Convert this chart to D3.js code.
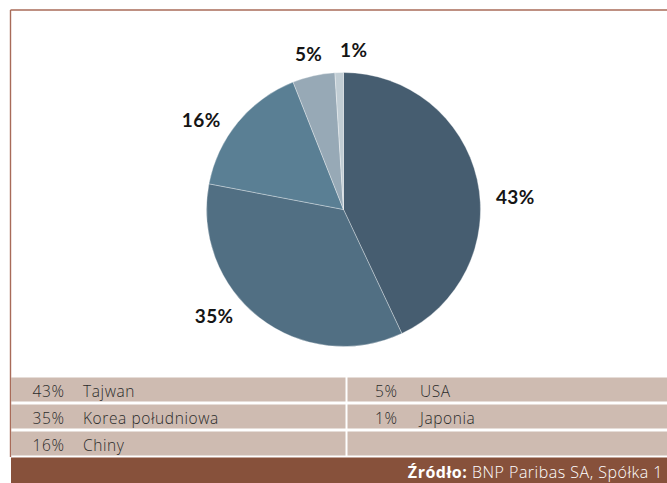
<!DOCTYPE html>
<html>
<head>
<meta charset="utf-8">
<script src="https://cdn.jsdelivr.net/npm/d3@7"></script>
<style>
  html, body { margin: 0; padding: 0; background: #fff; }
  svg { display: block; }
</style>
</head>
<body>
<svg id="chart" width="667" height="483"></svg>
<script>
// ---- data ----
const categories = ["Tajwan", "Korea południowa", "Chiny", "USA", "Japonia"];
const values = [43, 35, 16, 5, 1];
const sourceLabel = "Źródło:";
const sourceText = "BNP Paribas SA, Spółka 1";

// ---- layout / style ----
const W = 667, H = 483;
const colors = ["#465d70", "#516f83", "#5a7f94", "#97a9b6", "#c1cdd4"];
const labelNudgeDeg = [8, 10.8, -5.2, 0.5, 5.3]; // label placement adjustments (best fit)
const cx = 343.5, cy = 209.5, R = 137;

const svg = d3.select("#chart");

// frame
svg.append("rect").attr("x", 0).attr("y", 0).attr("width", W).attr("height", H).attr("fill", "#fff");
svg.append("line").attr("x1", 10.5).attr("x2", W).attr("y1", 10).attr("y2", 10)
  .attr("stroke", "#a86b59").attr("stroke-width", 1.4);
svg.append("line").attr("x1", 10.5).attr("x2", 10.5).attr("y1", 10).attr("y2", 457)
  .attr("stroke", "#a86b59").attr("stroke-width", 1.4);

// pie
const pie = d3.pie().sort(null).value(d => d.v);
const data = categories.map((c, i) => ({ c, v: values[i], i }));
const arcs = pie(data);
const arc = d3.arc().innerRadius(0).outerRadius(R);

const g = svg.append("g").attr("transform", `translate(${cx},${cy})`);
g.selectAll("path.slice").data(arcs).enter().append("path")
  .attr("class", "slice")
  .attr("d", arc)
  .attr("fill", d => colors[d.data.i])
  .attr("stroke", "rgba(255,255,255,0.55)")
  .attr("stroke-width", 0.6);

// labels (outside end)
const pad = 16;
const labelG = g.append("g");
arcs.forEach(d => {
  const mid = (d.startAngle + d.endAngle) / 2 + labelNudgeDeg[d.data.i] * Math.PI / 180;
  const s = Math.sin(mid), c = Math.cos(mid);
  const px = (R + pad) * s, py = -(R + pad) * c;
  const t = labelG.append("text")
    .attr("font-family", "Lato, 'Open Sans', sans-serif")
    .attr("font-weight", 700)
    .attr("font-size", 19)
    .attr("letter-spacing", 0.4)
    .attr("fill", "#151515")
    .attr("text-anchor", "middle")
    .attr("dominant-baseline", "central")
    .text(d.data.v + "%");
  const bb = t.node().getBBox();
  const hw = bb.width / 2, hh = 7;
  t.attr("x", px + s * hw).attr("y", py - c * hh);
});

// legend table
const rowTops = [377.5, 404.5, 431.5];
const rowH = 24;
const colX = [11, 347.5];
const colW = [334.5, W - 347.5];
const pctX = [32.5, 375];
const nameX = [83, 420];
const rowFill = "#cebbb1";
const tableFont = "'Open Sans', sans-serif";

rowTops.forEach(y => {
  colX.forEach((x, j) => {
    svg.append("rect").attr("x", x).attr("y", y).attr("width", colW[j]).attr("height", rowH)
      .attr("fill", rowFill);
  });
});

data.forEach((d, k) => {
  const col = k < 3 ? 0 : 1;
  const row = k < 3 ? k : k - 3;
  const base = rowTops[row] + 19.5;
  svg.append("text").attr("x", pctX[col]).attr("y", base)
    .attr("font-family", tableFont).attr("font-size", 15.5).attr("font-weight", 300)
    .attr("letter-spacing", 0.6).attr("fill", "#2b2b2b")
    .text(d.v + "%");
  svg.append("text").attr("x", nameX[col]).attr("y", base)
    .attr("font-family", tableFont).attr("font-size", 15.5).attr("font-weight", 300)
    .attr("letter-spacing", 0.6).attr("fill", "#2b2b2b")
    .text(d.c);
});

// footer
svg.append("rect").attr("x", 11).attr("y", 457.5).attr("width", W - 11).attr("height", H - 457.5)
  .attr("fill", "#87513b");
const ft = svg.append("text").attr("x", 663).attr("y", 478)
  .attr("text-anchor", "end")
  .attr("font-family", tableFont).attr("font-size", 16).attr("letter-spacing", 0.5)
  .attr("fill", "#fff");
ft.append("tspan").attr("font-weight", 700).text(sourceLabel + " ");
ft.append("tspan").attr("font-weight", 300).text(sourceText);
</script>
</body>
</html>
